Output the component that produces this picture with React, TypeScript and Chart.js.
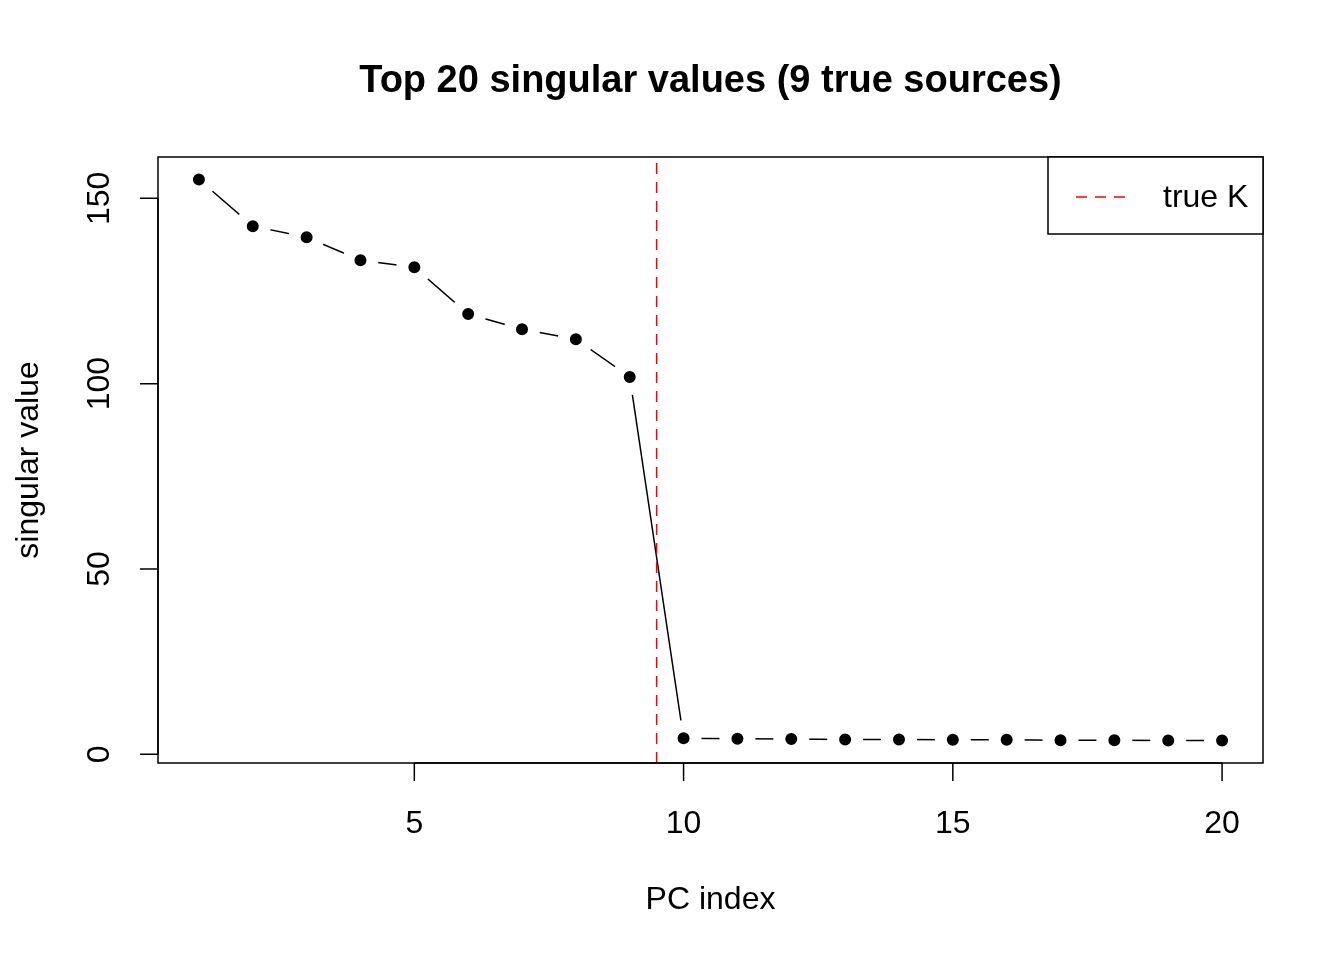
import React, { useEffect, useRef } from 'react';
import Chart from 'chart.js/auto';

const pcIndex: number[] = [1, 2, 3, 4, 5, 6, 7, 8, 9, 10, 11, 12, 13, 14, 15, 16, 17, 18, 19, 20];
const singularValues: number[] = [
    155.1, 142.5, 139.5, 133.3, 131.4, 118.8, 114.7, 112.0, 101.8,
    4.3, 4.2, 4.1, 4.0, 4.0, 3.9, 3.9, 3.8, 3.8, 3.7, 3.7,
];
const trueK = 9.5;
const xTicks: number[] = [5, 10, 15, 20];
const yTicks: number[] = [0, 50, 100, 150];
const titleText = 'Top 20 singular values (9 true sources)';
const xTitle = 'PC index';
const yTitle = 'singular value';
const legendLabel = 'true K';

const FONT = '"Liberation Sans", Arial, Helvetica, sans-serif';

// R style range: data range stretched 4% each side
const pad = (lo: number, hi: number) => {
    const d = (hi - lo) * 0.04;
    return [lo - d, hi + d];
};
const [xMin, xMax] = pad(Math.min(...pcIndex), Math.max(...pcIndex));
const [yMin, yMax] = pad(Math.min(...singularValues), Math.max(...singularValues));

const baseGraphics = {
    id: 'baseGraphics',
    afterDraw(chart: any) {
        const { ctx, chartArea: a, scales } = chart;
        const xs = scales.x;
        const ys = scales.y;
        ctx.save();
        ctx.strokeStyle = '#000';
        ctx.fillStyle = '#000';
        ctx.lineWidth = 1.5;

        // box
        ctx.strokeRect(a.left, a.top, a.right - a.left, a.bottom - a.top);

        // x axis
        ctx.font = `32px ${FONT}`;
        ctx.textAlign = 'center';
        ctx.textBaseline = 'middle';
        ctx.beginPath();
        ctx.moveTo(xs.getPixelForValue(xTicks[0]), a.bottom);
        ctx.lineTo(xs.getPixelForValue(xTicks[xTicks.length - 1]), a.bottom);
        xTicks.forEach((t) => {
            const px = xs.getPixelForValue(t);
            ctx.moveTo(px, a.bottom);
            ctx.lineTo(px, a.bottom + 18);
        });
        ctx.stroke();
        xTicks.forEach((t) => {
            ctx.fillText(String(t), xs.getPixelForValue(t), a.bottom + 61);
        });

        // y axis
        ctx.beginPath();
        ctx.moveTo(a.left, ys.getPixelForValue(yTicks[0]));
        ctx.lineTo(a.left, ys.getPixelForValue(yTicks[yTicks.length - 1]));
        yTicks.forEach((t) => {
            const py = ys.getPixelForValue(t);
            ctx.moveTo(a.left, py);
            ctx.lineTo(a.left - 18, py);
        });
        ctx.stroke();
        yTicks.forEach((t) => {
            ctx.save();
            ctx.translate(a.left - 58, ys.getPixelForValue(t));
            ctx.rotate(-Math.PI / 2);
            ctx.fillText(String(t), 0, 0);
            ctx.restore();
        });

        // axis titles
        ctx.fillText(xTitle, (a.left + a.right) / 2, 900);
        ctx.save();
        ctx.translate(29, (a.top + a.bottom) / 2);
        ctx.rotate(-Math.PI / 2);
        ctx.fillText(yTitle, 0, 0);
        ctx.restore();

        // title
        ctx.font = `bold 38px ${FONT}`;
        ctx.fillText(titleText, (a.left + a.right) / 2, 82);

        // legend
        const lw = 215;
        const lh = 77;
        ctx.fillStyle = '#fff';
        ctx.fillRect(a.right - lw, a.top, lw, lh);
        ctx.strokeRect(a.right - lw, a.top, lw, lh);
        ctx.strokeStyle = '#ff0000';
        ctx.setLineDash([11, 8]);
        ctx.beginPath();
        ctx.moveTo(a.right - lw + 28, a.top + 40);
        ctx.lineTo(a.right - lw + 84, a.top + 40);
        ctx.stroke();
        ctx.setLineDash([]);
        ctx.fillStyle = '#000';
        ctx.font = `32px ${FONT}`;
        ctx.textAlign = 'left';
        ctx.fillText(legendLabel, a.right - lw + 115, a.top + 41);
        ctx.restore();
    },
};

const App: React.FC = () => {
    const chartRef = useRef<HTMLCanvasElement>(null);

    useEffect(() => {
        document.body.style.margin = '0';
        if (chartRef.current) {
            const chartInstance = new Chart(chartRef.current, {
                type: 'scatter',
                data: {
                    datasets: [
                        {
                            data: [
                                { x: trueK, y: yMin },
                                { x: trueK, y: yMax },
                            ],
                            showLine: true,
                            borderColor: '#ff0000',
                            borderWidth: 1.5,
                            borderDash: [11, 8],
                            pointRadius: 0,
                        },
                        {
                            data: pcIndex.map((x, i) => ({ x, y: singularValues[i] })),
                            showLine: true,
                            borderColor: '#000',
                            borderWidth: 1.5,
                            // white ring hides the line near each point, like R's type = "b"
                            pointRadius: 12,
                            pointBorderWidth: 12,
                            pointBackgroundColor: '#000',
                            pointBorderColor: '#fff',
                        },
                    ],
                },
                options: {
                    animation: false,
                    responsive: false,
                    events: [],
                    layout: { padding: { left: 158, top: 157, right: 81, bottom: 197 } },
                    plugins: {
                        legend: { display: false },
                        tooltip: { enabled: false },
                    },
                    scales: {
                        x: { type: 'linear', min: xMin, max: xMax, display: false },
                        y: { type: 'linear', min: yMin, max: yMax, display: false },
                    },
                },
                plugins: [baseGraphics],
            });

            return () => {
                chartInstance.destroy();
            };
        }
    }, []);

    return <canvas ref={chartRef} width={1344} height={960} style={{ display: 'block' }} />;
};

export default App;
